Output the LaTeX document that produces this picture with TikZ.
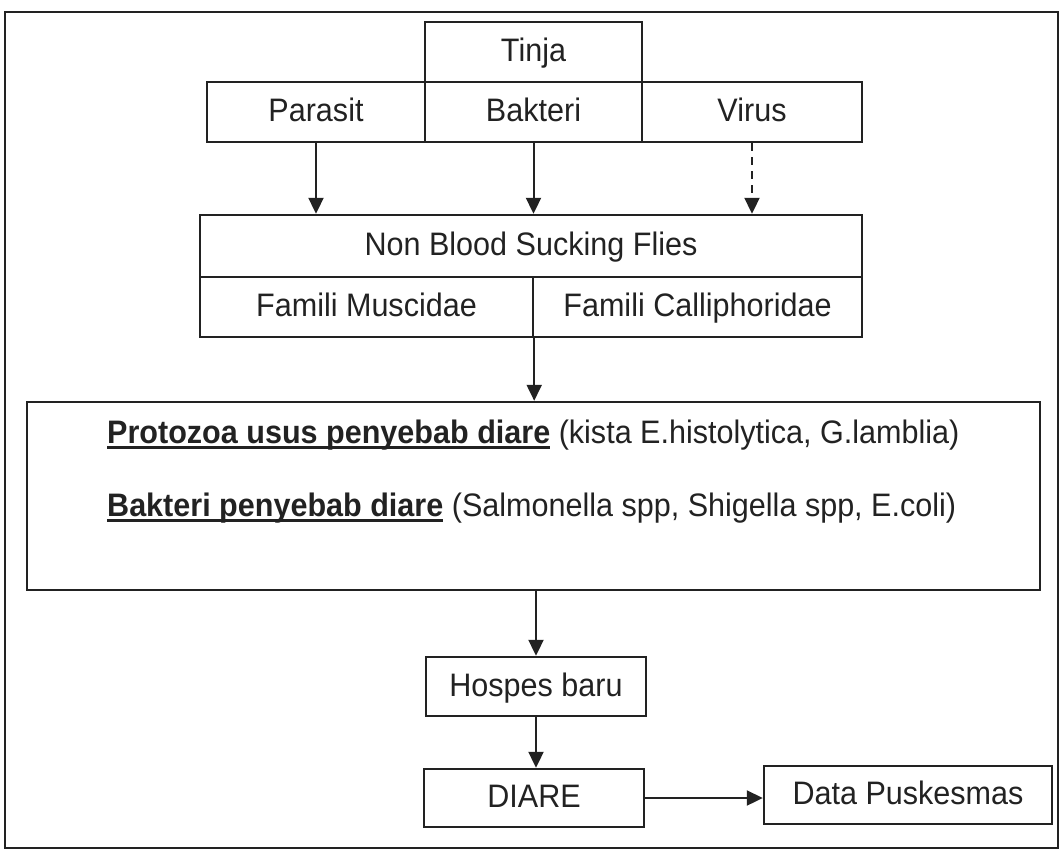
\documentclass[tikz,border=0pt]{standalone}
\usepackage{fontspec}
\setmainfont{Liberation Sans}[FakeStretch=0.94]
\usetikzlibrary{arrows.meta}
\definecolor{ink}{HTML}{222222}
\newcommand\myul[1]{\setbox0=\hbox{#1}\rlap{\rule[-6pt]{\wd0}{3pt}}\box0\relax}
\newcommand\fsz{\fontsize{32.5}{38}\selectfont}
\begin{document}
\begin{tikzpicture}[x=1pt,y=-1pt,
  box/.style={draw=ink, line width=2.4pt, inner sep=0pt, font=\fsz, text=ink, rectangle, text height=25pt, text depth=6pt},
  arr/.style={draw=ink, line width=2pt, -{Triangle[width=15pt,length=16pt]}},
  txt/.style={inner sep=0pt, font=\fsz, text=ink, anchor=base west}]
\useasboundingbox (0,0) rectangle (1062,855);
\draw[ink, line width=2.8pt] (5,12) rectangle (1058,848);
\node[box, minimum width=217pt, minimum height=60pt] (tinja) at (533.5,52) {Tinja};
\node[box, minimum width=218pt, minimum height=60pt] (parasit) at (316,112) {Parasit};
\node[box, minimum width=217pt, minimum height=60pt] (bakteri) at (533.5,112) {Bakteri};
\node[box, minimum width=220pt, minimum height=60pt] (virus) at (752,112) {Virus};
\node[box, minimum width=662pt, minimum height=62pt] (nbf) at (531,246) {Non Blood Sucking Flies};
\node[box, minimum width=333pt, minimum height=60pt] (fm) at (366.5,307) {Famili Muscidae};
\node[box, minimum width=329pt, minimum height=60pt] (fc) at (697.5,307) {Famili Calliphoridae};
\node[box, minimum width=1013pt, minimum height=188pt] (big) at (533.5,496) {};
\node[txt] (l1) at (107,443) {\myul{\bfseries Protozoa usus penyebab diare} (kista E.histolytica, G.lamblia)};
\node[txt] (l2) at (107,516) {\myul{\bfseries Bakteri penyebab diare} (Salmonella spp, Shigella spp, E.coli)};
\node[box, minimum width=220pt, minimum height=59pt] (hospes) at (536,686.5) {Hospes baru};
\node[box, minimum width=220pt, minimum height=58pt] (diare) at (534,798) {DIARE};
\node[box, minimum width=288pt, minimum height=58pt] (data) at (908,795) {Data Puskesmas};
\draw[arr] (parasit.south) -- (parasit.south |- nbf.north);
\draw[arr] (bakteri.south) -- (bakteri.south |- nbf.north);
\draw[arr, dash pattern=on 8pt off 6pt] (virus.south) -- (virus.south |- nbf.north);
\draw[arr] (fm.south east) -- (fm.south east |- big.north);
\draw[arr] (big.south -| hospes.north) -- (hospes.north);
\draw[arr] (hospes.south) -- (hospes.south |- diare.north);
\draw[arr] (diare.east) -- (diare.east -| data.west);
\end{tikzpicture}
\end{document}
